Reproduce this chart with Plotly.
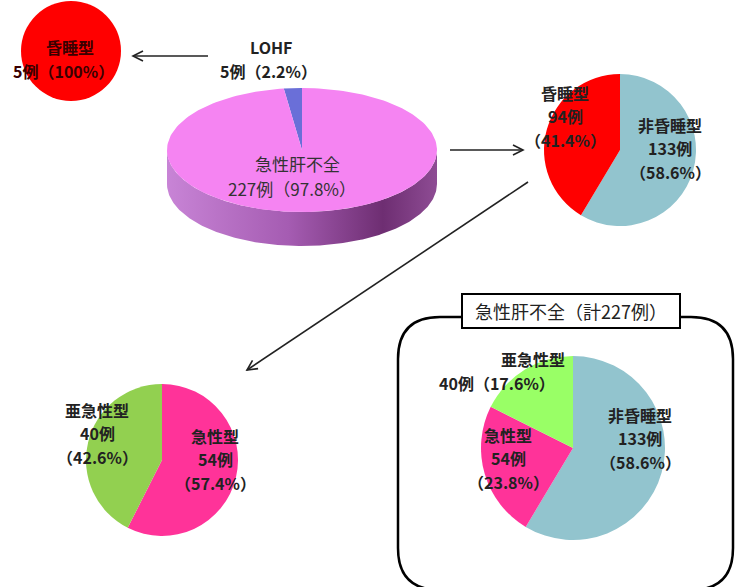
import numpy as np
import plotly.graph_objects as go

W, H = 737, 587

# ---- data -------------------------------------------------------------
# all cases: LOHF vs acute liver failure
split_labels = ["LOHF", "急性肝不全"]
split_counts = [5, 227]
split_pcts = [2.2, 97.8]

# LOHF breakdown
lohf_labels = ["昏睡型"]
lohf_counts = [5]
lohf_pcts = [100]

# acute liver failure: coma vs non-coma
alf_labels = ["昏睡型", "非昏睡型"]
alf_counts = [94, 133]
alf_pcts = [41.4, 58.6]

# coma type: subacute vs acute
coma_labels = ["亜急性型", "急性型"]
coma_counts = [40, 54]
coma_pcts = [42.6, 57.4]

# acute liver failure overall (boxed)
total_labels = ["亜急性型", "急性型", "非昏睡型"]
total_counts = [40, 54, 133]
total_pcts = [17.6, 23.8, 58.6]

# ---- styling ----------------------------------------------------------
RED = "#FF0000"
BLUE = "#92C4CE"
PINK = "#FF3399"
GREEN = "#92D050"
LIME = "#99FF66"
VIOLET = "#F584F2"
WEDGE = "#6A6FD8"
TXT = "#222222"
FONT = "Noto Sans CJK JP"


def pct(p):
    return f"{p:g}%"


def domain(cx, cy, r):
    clamp = lambda v: min(1.0, max(0.0, v))
    return dict(x=[clamp((cx - r) / W), clamp((cx + r) / W)],
                y=[clamp(1 - (cy + r) / H), clamp(1 - (cy - r) / H)])


def pie(values, labels, colors, cx, cy, r):
    # first category starts at 12 o'clock and runs counter-clockwise:
    # feed the slices in reverse and let plotly lay them out clockwise
    return go.Pie(values=values[::-1], labels=labels[::-1], sort=False, direction="clockwise",
                  rotation=0, marker=dict(colors=colors[::-1], line=dict(width=0)),
                  textinfo="none", hoverinfo="label+value+percent", showlegend=False,
                  domain=domain(cx, cy, r))


fig = go.Figure()

# ---- tilted 3-D pie (split of all cases) --------------------------------
cx, cy, rx, ry, depth = 302, 150, 135, 62, 34
total = sum(split_counts)
frac = np.cumsum([0] + split_counts) / total


def rim(t0, t1, n=200, dy=0.0):
    t = np.linspace(t0, t1, n)
    return cx - rx * np.sin(t), cy - ry * np.cos(t) + dy


# side wall (front half)
xa, ya = rim(np.pi / 2, 3 * np.pi / 2)
xb, yb = rim(3 * np.pi / 2, np.pi / 2, dy=depth)
fig.add_trace(go.Scatter(
    x=np.r_[xa, xb], y=np.r_[ya, yb], mode="lines", line=dict(width=0),
    fill="toself",
    fillgradient=dict(type="horizontal",
                      colorscale=[[0, "#C884D6"], [0.45, "#A55CB2"], [0.8, "#6E2E72"], [1, "#8E4C94"]]),
    hoverinfo="skip", showlegend=False))

# top face slices
for i, col in enumerate([WEDGE, VIOLET]):
    xs, ys = rim(2 * np.pi * frac[i], 2 * np.pi * frac[i + 1])
    fig.add_trace(go.Scatter(
        x=np.r_[cx, xs, cx], y=np.r_[cy, ys, cy], mode="lines", line=dict(width=0, color=col),
        fill="toself", fillcolor=col, name=split_labels[i],
        hovertemplate=f"{split_labels[i]}: {split_counts[i]}<extra></extra>", showlegend=False))

# ---- flat pies ------------------------------------------------------------
fig.add_trace(pie(lohf_counts, lohf_labels, [RED], 71, 51, 50))
fig.add_trace(pie(alf_counts, alf_labels, [RED, BLUE], 620, 150, 76))
fig.add_trace(pie(coma_counts, coma_labels, [GREEN, PINK], 162, 460, 76))
fig.add_trace(pie(total_counts, total_labels, [LIME, PINK, BLUE], 573, 448, 92))

# ---- frame around the overall breakdown ---------------------------------
x0, y0, x1, y1, rr = 398, 317, 733, 590, 42
frame = (f"M{x0 + rr},{y0} L{x1 - rr},{y0} Q{x1},{y0} {x1},{y0 + rr} "
         f"L{x1},{y1 - rr} Q{x1},{y1} {x1 - rr},{y1} L{x0 + rr},{y1} "
         f"Q{x0},{y1} {x0},{y1 - rr} L{x0},{y0 + rr} Q{x0},{y0} {x0 + rr},{y0} Z")
shapes = [dict(type="path", path=frame, xref="x", yref="y", line=dict(color="black", width=2.5)),
          dict(type="rect", x0=462, y0=294, x1=680, y1=328, xref="x", yref="y",
               line=dict(color="black", width=2), fillcolor="white")]


def arrow(xs, ys, xe, ye, head=10, spread=5):
    d = np.array([xe - xs, ye - ys], float)
    d /= np.hypot(*d)
    n = np.array([-d[1], d[0]])
    b = np.array([xe, ye]) - d * head
    p1, p2 = b + n * spread, b - n * spread
    return [dict(type="line", x0=xs, y0=ys, x1=xe, y1=ye, xref="x", yref="y",
                 line=dict(color="#222", width=1.6)),
            dict(type="path", path=f"M{p1[0]},{p1[1]} L{xe},{ye} L{p2[0]},{p2[1]}",
                 xref="x", yref="y", line=dict(color="#222", width=1.6))]


shapes += arrow(208, 56, 133, 56)
shapes += arrow(450, 150, 523, 150)
shapes += arrow(528, 182, 247, 370)

# ---- labels ---------------------------------------------------------------
ann = []
STEP = 23.5


def label(x, y, lines, size=16, bold=True, color=TXT, step=STEP):
    """Stack text lines centred on (x, y); x may be a per-line list."""
    xs = x if isinstance(x, (list, tuple)) else [x] * len(lines)
    n = len(lines)
    for i, (xi, line) in enumerate(zip(xs, lines)):
        ann.append(dict(x=xi, y=y + (i - (n - 1) / 2) * step, xref="x", yref="y",
                        text=line, showarrow=False, align="center",
                        font=dict(family=FONT, size=size, color=color,
                                  weight="bold" if bold else "normal")))


def two_line(lbl, n, p):
    return [lbl, f"{n}例（{pct(p)}）"]


def three_line(lbl, n, p):
    return [lbl, f"{n}例", f"（{pct(p)}）"]


label([271, 268], 59, two_line(split_labels[0], split_counts[0], split_pcts[0]))
label([297, 292], 176, two_line(split_labels[1], split_counts[1], split_pcts[1]),
      size=17, bold=False, color="#333", step=24.5)
label([70, 63], 59, two_line(lohf_labels[0], lohf_counts[0], lohf_pcts[0]), color="#3a0000")
label(565, 116, three_line(alf_labels[0], alf_counts[0], alf_pcts[0]))
label(670, 148, three_line(alf_labels[1], alf_counts[1], alf_pcts[1]))
label(97, 433, three_line(coma_labels[0], coma_counts[0], coma_pcts[0]))
label(215, 459, three_line(coma_labels[1], coma_counts[1], coma_pcts[1]))
label([533, 497], 371, two_line(total_labels[0], total_counts[0], total_pcts[0]))
label(508, 458, three_line(total_labels[1], total_counts[1], total_pcts[1]))
label(640, 438, three_line(total_labels[2], total_counts[2], total_pcts[2]))
label(571, 311, [f"急性肝不全（計{sum(total_counts)}例）"], size=18, bold=False)

fig.update_layout(
    width=W, height=H, margin=dict(l=0, r=0, t=0, b=0),
    paper_bgcolor="white", plot_bgcolor="white",
    xaxis=dict(range=[0, W], visible=False, fixedrange=True, domain=[0, 1]),
    yaxis=dict(range=[H, 0], visible=False, fixedrange=True, domain=[0, 1]),
    shapes=shapes, annotations=ann,
)

fig.write_html("out.html")
